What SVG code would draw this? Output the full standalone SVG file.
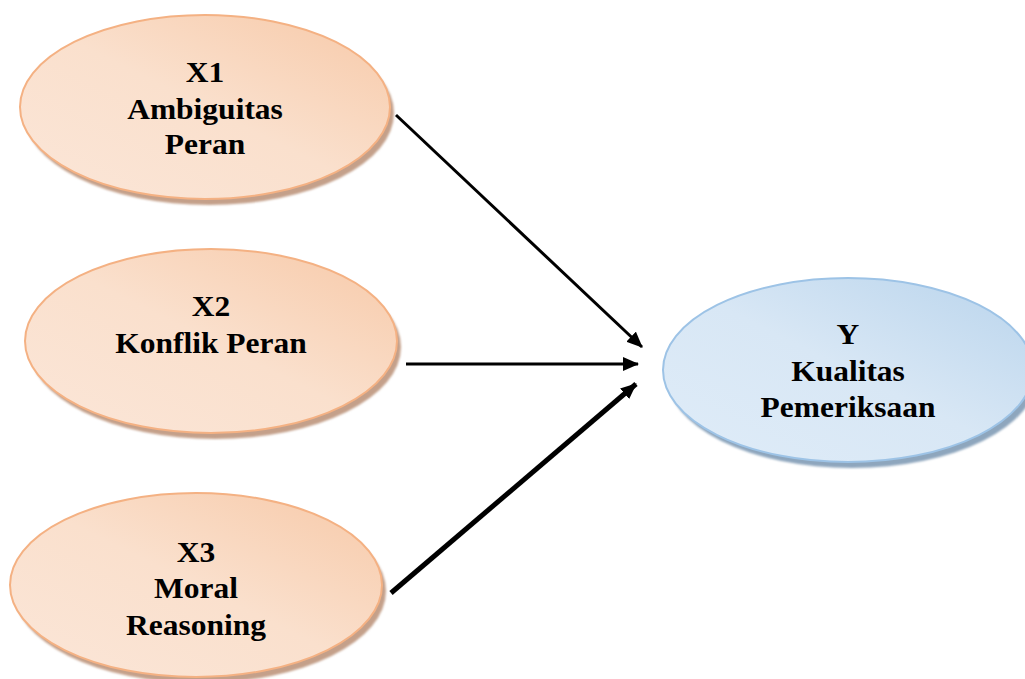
<svg xmlns="http://www.w3.org/2000/svg" width="1025" height="679" viewBox="0 0 1025 679">
<defs>
<linearGradient id="gO" x1="0" y1="1" x2="1" y2="0">
<stop offset="0" stop-color="#fbe6d8"/>
<stop offset="0.5" stop-color="#fae0cd"/>
<stop offset="1" stop-color="#f7c9a8"/>
</linearGradient>
<linearGradient id="gB" x1="0" y1="1" x2="1" y2="0">
<stop offset="0" stop-color="#dfecf8"/>
<stop offset="0.5" stop-color="#d8e7f5"/>
<stop offset="1" stop-color="#b9d4ec"/>
</linearGradient>
<filter id="blur" x="-10%" y="-10%" width="120%" height="130%"><feGaussianBlur stdDeviation="1.2"/></filter>
<marker id="ah" viewBox="0 0 16 14" refX="15" refY="7" markerWidth="16" markerHeight="14" markerUnits="userSpaceOnUse" orient="auto">
<path d="M0,0 L16,7 L0,14 Z" fill="#000"/>
</marker>
</defs>
<style>
.o{fill:url(#gO);stroke:#f4b183;stroke-width:2}
.b{fill:url(#gB);stroke:#9dc3e6;stroke-width:2}
.so{fill:#c4a08a;filter:url(#blur)}
.sb{fill:#8ea6bd;filter:url(#blur)}
.t{font-family:"Liberation Serif","Times New Roman",serif;font-weight:bold;font-size:30px;fill:#000;text-anchor:middle}
.c{stroke:#000;fill:none}
</style>
<g id="X1">
<ellipse class="so" cx="209" cy="113" rx="185" ry="92"/>
<ellipse class="o" cx="205" cy="107" rx="185" ry="92"/>
<g transform="translate(205,0) scale(1.05,1)">
<text class="t" x="0" y="82">X1</text>
<text class="t" x="0" y="119">Ambiguitas</text>
<text class="t" x="0" y="154">Peran</text>
</g>
</g>
<g id="X2">
<ellipse class="so" cx="215" cy="347" rx="186" ry="92"/>
<ellipse class="o" cx="211" cy="341" rx="186" ry="92"/>
<g transform="translate(211,0) scale(1.05,1)">
<text class="t" x="0" y="316">X2</text>
<text class="t" x="0" y="353">Konflik Peran</text>
</g>
</g>
<g id="X3">
<ellipse class="so" cx="200" cy="591" rx="186" ry="92"/>
<ellipse class="o" cx="196" cy="585" rx="186" ry="92"/>
<g transform="translate(196,0) scale(1.05,1)">
<text class="t" x="0" y="562">X3</text>
<text class="t" x="0" y="598">Moral</text>
<text class="t" x="0" y="635">Reasoning</text>
</g>
</g>
<g id="Y">
<ellipse class="sb" cx="852" cy="376" rx="185" ry="92"/>
<ellipse class="b" cx="848" cy="370" rx="185" ry="92"/>
<g transform="translate(848,0) scale(1.05,1)">
<text class="t" x="0" y="344">Y</text>
<text class="t" x="0" y="381">Kualitas</text>
<text class="t" x="0" y="417">Pemeriksaan</text>
</g>
</g>
<g id="connectors">
<line class="c" x1="396" y1="115" x2="642" y2="347" stroke-width="3" marker-end="url(#ah)"/>
<line class="c" x1="406" y1="364" x2="638" y2="364" stroke-width="3.2" marker-end="url(#ah)"/>
<line class="c" x1="391" y1="593" x2="636" y2="384" stroke-width="5" marker-end="url(#ah)"/>
</g>
</svg>
